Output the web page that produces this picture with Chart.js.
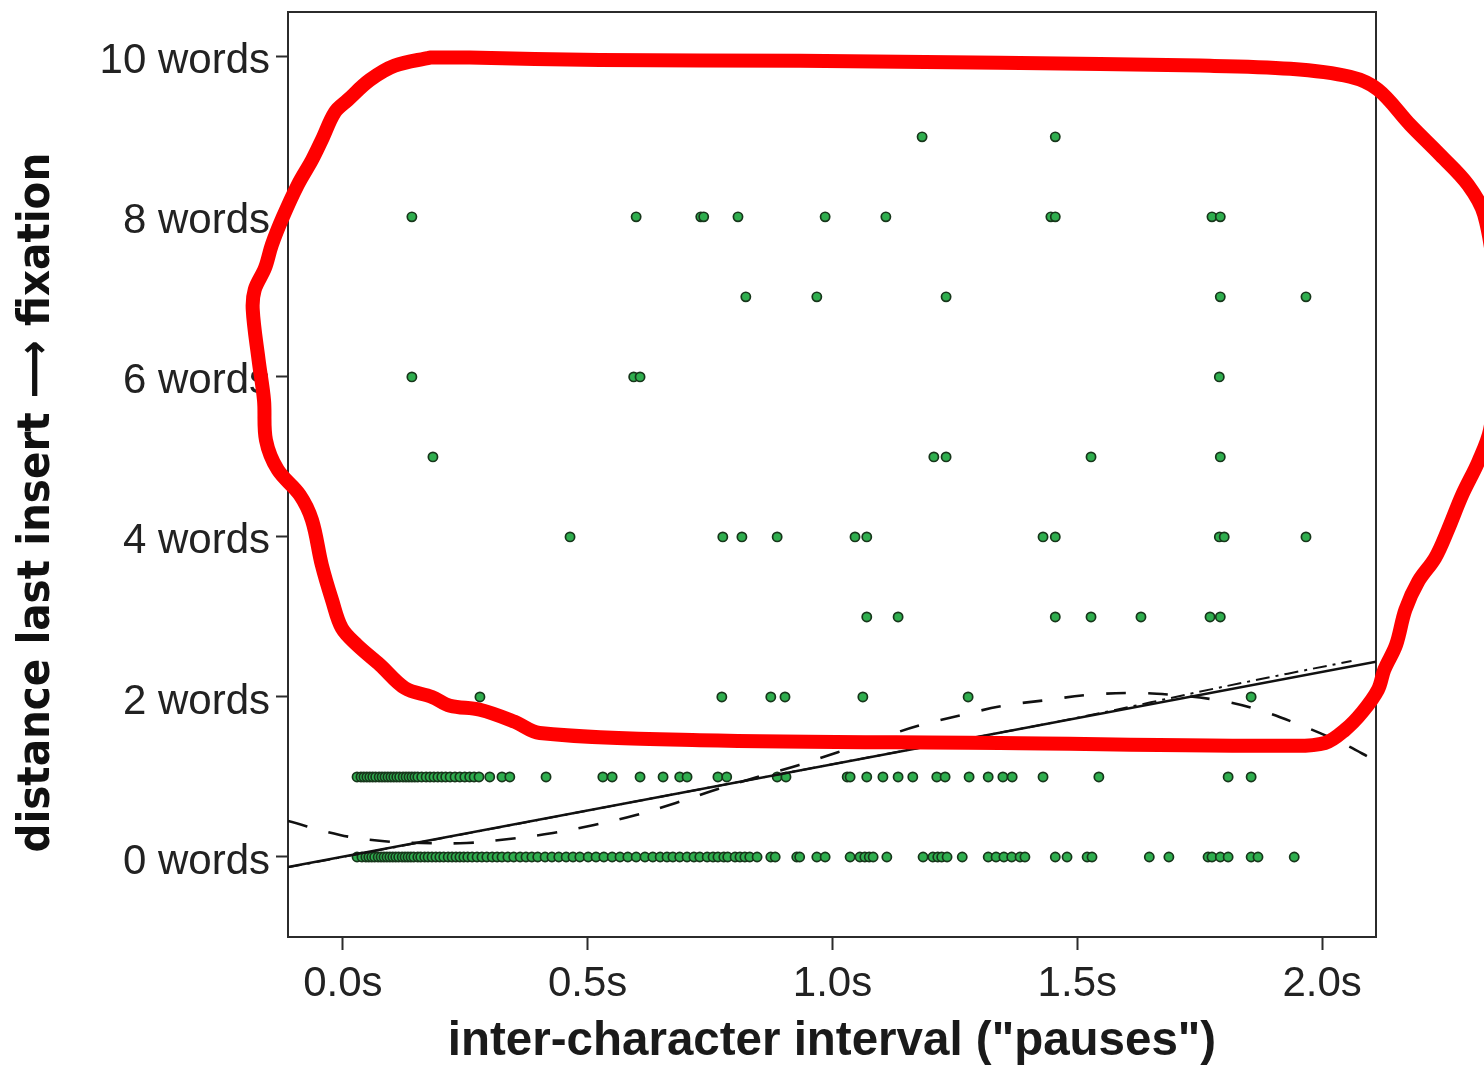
<!DOCTYPE html>
<html>
<head>
<meta charset="utf-8">
<title>pauses vs distance</title>
<script src="https://cdn.jsdelivr.net/npm/chart.js@4.4.1/dist/chart.umd.min.js"></script>
<style>
  html, body { margin: 0; padding: 0; background: #fff; overflow: hidden; }
  #wrap { width: 1484px; height: 1070px; }
</style>
</head>
<body>
<div id="wrap"><canvas id="scatter" width="1484" height="1070"></canvas></div>
<script>
// axis ranges and ticks
const xMin = -0.112, xMax = 2.11;
const yMin = -1.0, yMax = 10.56;
const xTicks = [0, 0.5, 1.0, 1.5, 2.0];
const yTicks = [0, 2, 4, 6, 8, 10];

// pause length (s) of every observation, grouped by word distance
const pausesAt0 = [0.029, 0.039, 0.047, 0.053, 0.059, 0.065, 0.072, 0.078, 0.084, 0.090,
  0.096, 0.102, 0.108, 0.114, 0.121, 0.127, 0.133, 0.139, 0.145, 0.153, 0.159, 0.167,
  0.174, 0.182, 0.190, 0.198, 0.206, 0.215, 0.223, 0.231, 0.239, 0.247, 0.255, 0.264,
  0.274, 0.284, 0.294, 0.305, 0.315, 0.325, 0.337, 0.349, 0.362, 0.374, 0.386, 0.398,
  0.413, 0.427, 0.441, 0.456, 0.470, 0.484, 0.501, 0.517, 0.533, 0.550, 0.566, 0.582,
  0.599, 0.617, 0.633, 0.648, 0.662, 0.674, 0.688, 0.703, 0.717, 0.729, 0.744, 0.756,
  0.766, 0.778, 0.786, 0.801, 0.811, 0.821, 0.831, 0.846, 0.874, 0.883, 0.927, 0.933,
  0.968, 0.985, 1.036, 1.056, 1.066, 1.075, 1.083, 1.111, 1.185, 1.205, 1.215, 1.223,
  1.234, 1.265, 1.318, 1.334, 1.350, 1.366, 1.383, 1.393, 1.455, 1.479, 1.520, 1.530,
  1.647, 1.687, 1.767, 1.775, 1.792, 1.808, 1.855, 1.869, 1.943];
const pausesAt1 = [0.029, 0.037, 0.043, 0.049, 0.055, 0.061, 0.067, 0.074, 0.080, 0.086,
  0.092, 0.098, 0.104, 0.110, 0.116, 0.123, 0.129, 0.135, 0.141, 0.147, 0.153, 0.161,
  0.170, 0.178, 0.186, 0.194, 0.202, 0.210, 0.219, 0.229, 0.239, 0.249, 0.259, 0.268,
  0.278, 0.300, 0.325, 0.341, 0.415, 0.531, 0.550, 0.607, 0.654, 0.688, 0.703, 0.766,
  0.784, 0.887, 0.905, 1.030, 1.036, 1.070, 1.103, 1.134, 1.164, 1.213, 1.230, 1.279,
  1.318, 1.348, 1.367, 1.430, 1.544, 1.808, 1.855];
const pausesAt2 = [0.280, 0.774, 0.874, 0.903, 1.062, 1.277, 1.855];
const pausesAt3 = [1.070, 1.134, 1.455, 1.528, 1.630, 1.771, 1.792];
const pausesAt4 = [0.464, 0.776, 0.815, 0.887, 1.046, 1.070, 1.430, 1.455, 1.790, 1.800, 1.967];
const pausesAt5 = [0.184, 1.207, 1.232, 1.528, 1.792];
const pausesAt6 = [0.141, 0.594, 0.607, 1.790];
const pausesAt7 = [0.823, 0.968, 1.232, 1.792, 1.967];
const pausesAt8 = [0.141, 0.599, 0.731, 0.737, 0.807, 0.985, 1.109, 1.446, 1.455, 1.775, 1.792];
const pausesAt9 = [1.183, 1.455];
const pausesByWords = [pausesAt0, pausesAt1, pausesAt2, pausesAt3, pausesAt4,
  pausesAt5, pausesAt6, pausesAt7, pausesAt8, pausesAt9];

// fit lines
const linearX = [-0.112, 2.11];
const linearY = [-0.125, 2.44];
const curveX = [-0.112, -0.006, 0.080, 0.161, 0.253, 0.339, 0.429, 0.513, 0.599, 0.680,
  0.766, 0.852, 0.932, 1.011, 1.099, 1.181, 1.265, 1.350, 1.436, 1.522, 1.610, 1.694,
  1.786, 1.869, 1.951, 2.035, 2.11];
const curveY = [0.45, 0.275, 0.20, 0.175, 0.175, 0.225, 0.30, 0.40, 0.525, 0.675,
  0.85, 1.01, 1.15, 1.31, 1.49, 1.65, 1.775, 1.89, 1.96, 2.025, 2.05, 2.025,
  1.96, 1.84, 1.66, 1.44, 1.20];
const dashDotX = [-0.112, 0.5, 1.0, 1.5, 1.8, 2.06];
const dashDotY = [-0.13, 0.58, 1.16, 1.74, 2.13, 2.45];

// red hand-drawn outline (data units)
const loopX = [0.178, 0.259, 0.525, 0.934, 1.342, 1.751, 1.935, 2.057, 2.114, 2.180,
  2.241, 2.298, 2.331, 2.353, 2.360, 2.343, 2.319, 2.286, 2.257, 2.231, 2.196, 2.170,
  2.151, 2.127, 2.114, 2.082, 2.047, 2.006, 1.935, 1.342, 0.729, 0.402, 0.351, 0.280,
  0.219, 0.182, 0.127, 0.076, 0.029, -0.002, -0.022, -0.043, -0.063, -0.088, -0.133,
  -0.157, -0.161, -0.172, -0.184, -0.180, -0.159, -0.145, -0.123, -0.092, -0.063,
  -0.043, -0.016, 0.010, 0.055, 0.106, 0.178];
const loopY = [9.99, 9.99, 9.96, 9.95, 9.925, 9.89, 9.85, 9.75, 9.59, 9.15,
  8.775, 8.40, 8.025, 7.21, 6.21, 5.34, 4.94, 4.525, 4.09, 3.74, 3.44, 3.09,
  2.65, 2.34, 2.09, 1.81, 1.59, 1.425, 1.39, 1.425, 1.46, 1.55, 1.69, 1.84,
  1.89, 2.0, 2.11, 2.40, 2.65, 2.86, 3.21, 3.65, 4.21, 4.525, 4.84,
  5.21, 5.71, 6.21, 6.84, 7.09, 7.36, 7.65, 7.99, 8.40, 8.71,
  8.96, 9.31, 9.46, 9.71, 9.89, 9.99];

const zip = (xs, ys) => xs.map((x, i) => ({ x: x, y: ys[i] }));

const obsPoints = [];
pausesByWords.forEach((list, words) => {
    list.forEach(p => obsPoints.push({ x: p, y: words }));
});

const tickFont = { family: '"Liberation Sans", Arial, sans-serif', size: 42 };

// box around the plot area
const framePlugin = {
    id: 'frame',
    beforeDatasetsDraw(chart) {
        const a = chart.chartArea;
        const ctx = chart.ctx;
        ctx.save();
        ctx.strokeStyle = '#2b2b2b';
        ctx.lineWidth = 2;
        ctx.strokeRect(a.left, a.top, a.right - a.left, a.bottom - a.top);
        ctx.restore();
    }
};

const ctx = document.getElementById('scatter').getContext('2d');
new Chart(ctx, {
    type: 'scatter',
    data: {
        datasets: [
            {
                label: 'outline',
                data: zip(loopX, loopY),
                showLine: true,
                borderColor: '#ff0000',
                borderWidth: 14,
                pointRadius: 0,
                tension: 0.35,
                borderCapStyle: 'round',
                borderJoinStyle: 'round',
                clip: false,
                order: 0
            },
            {
                label: 'linear',
                data: zip(linearX, linearY),
                showLine: true,
                borderColor: '#111',
                borderWidth: 2.6,
                pointRadius: 0,
                order: 1
            },
            {
                label: 'dash-dot',
                data: zip(dashDotX, dashDotY),
                showLine: true,
                borderColor: '#111',
                borderWidth: 2,
                borderDash: [14, 6, 3, 6],
                pointRadius: 0,
                tension: 0.3,
                order: 1
            },
            {
                label: 'curve',
                data: zip(curveX, curveY),
                showLine: true,
                borderColor: '#111',
                borderWidth: 2.6,
                borderDash: [20, 22],
                pointRadius: 0,
                tension: 0.4,
                order: 1
            },
            {
                label: 'observations',
                data: obsPoints,
                pointRadius: 4.6,
                pointBackgroundColor: '#2fae4e',
                pointBorderColor: '#17361b',
                pointBorderWidth: 1.7,
                order: 2
            }
        ]
    },
    options: {
        responsive: false,
        devicePixelRatio: 1,
        animation: false,
        layout: { padding: { top: 12, right: 108, bottom: 0, left: 0 } },
        plugins: {
            legend: { display: false },
            tooltip: { enabled: false }
        },
        scales: {
            x: {
                type: 'linear',
                min: xMin,
                max: xMax,
                afterBuildTicks: s => { s.ticks = xTicks.map(v => ({ value: v })); },
                afterFit: s => { s.height = 133; s.paddingLeft = 0; s.paddingRight = 0; },
                ticks: {
                    autoSkip: false,
                    maxRotation: 0,
                    padding: 9,
                    color: '#222',
                    font: tickFont,
                    callback: v => v.toFixed(1) + 's'
                },
                grid: { drawOnChartArea: false, tickLength: 13, tickWidth: 2, tickColor: '#2b2b2b' },
                border: { display: false },
                title: {
                    display: true,
                    text: 'inter-character interval ("pauses")',
                    color: '#1a1a1a',
                    font: { family: '"Liberation Sans", Arial, sans-serif', size: 47.5, weight: 'bold' },
                    padding: { top: 0, bottom: 0 }
                }
            },
            y: {
                type: 'linear',
                min: yMin,
                max: yMax,
                afterBuildTicks: s => { s.ticks = yTicks.map(v => ({ value: v })); },
                afterFit: s => { s.width = 288; s.paddingTop = 0; s.paddingBottom = 0; },
                ticks: {
                    autoSkip: false,
                    padding: 6,
                    labelOffset: 5,
                    color: '#222',
                    font: tickFont,
                    callback: v => v + ' words'
                },
                grid: { drawOnChartArea: false, tickLength: 12, tickWidth: 2, tickColor: '#2b2b2b' },
                border: { display: false },
                title: {
                    display: true,
                    text: 'distance last insert \u27F6 fixation    ',
                    color: '#111',
                    font: { family: '"Liberation Sans Narrow", "DejaVu Sans Condensed", "Liberation Sans", sans-serif', size: 45, weight: 'bold' },
                    padding: { top: 10, bottom: 0 }
                }
            }
        }
    },
    plugins: [framePlugin]
});
</script>
</body>
</html>
